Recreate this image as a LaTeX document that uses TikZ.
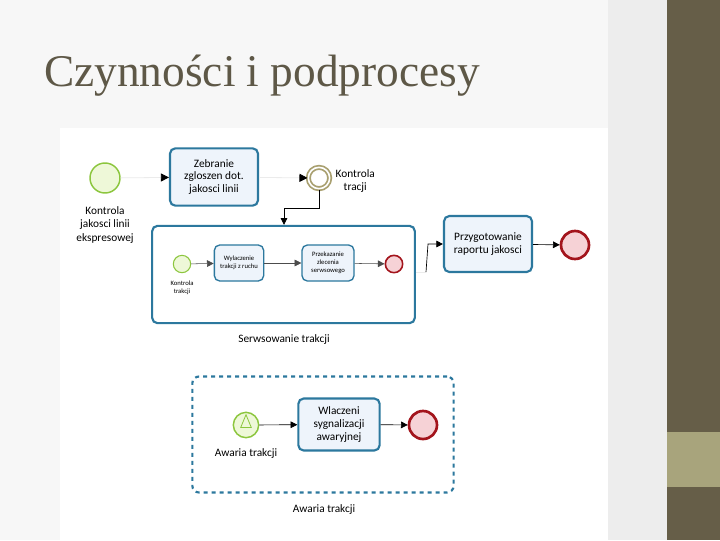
\documentclass[tikz,border=0pt]{standalone}
\usepackage{fontspec}
\setmainfont{Carlito}
\newfontfamily\titlefont{Liberation Serif}
\usetikzlibrary{arrows.meta,shapes.geometric}
\definecolor{olivebar}{HTML}{665E48}
\definecolor{olivelight}{HTML}{A8A47C}
\definecolor{titlegray}{HTML}{5E5847}
\definecolor{taskline}{HTML}{2C789E}
\definecolor{taskfill}{HTML}{EEF4FB}
\definecolor{startline}{HTML}{8CC63E}
\definecolor{startfill}{HTML}{EEF8D8}
\definecolor{endline}{HTML}{A3141C}
\definecolor{endfill}{HTML}{F6D2D6}
\definecolor{midline}{HTML}{A9A070}
\tikzset{
  task/.style={draw=taskline,fill=taskfill,rounded corners=4pt,line width=1.6pt,align=center,font=\fontsize{8.5}{9.5}\selectfont,inner sep=1pt},
  smalltask/.style={task,line width=1pt,font=\fontsize{5}{6}\selectfont},
  startev/.style={circle,draw=startline,fill=startfill,line width=1.1pt},
  endev/.style={circle,draw=endline,fill=endfill,line width=2pt},
  flow/.style={-{Triangle[length=5pt,width=5pt]},black,line width=0.5pt},
  faint/.style={-{Triangle[length=6pt,width=6pt,black]},black!8,line width=0.6pt},
  lbl/.style={font=\fontsize{8.5}{10}\selectfont,align=center},
}
\begin{document}
\begin{tikzpicture}[x=0.75pt,y=-0.75pt]
  \useasboundingbox (0,0) rectangle (720,540);
  % slide
  \fill[black!3] (0,0) rectangle (667,540);
  \fill[white] (60,128) rectangle (608,540);
  \fill[black!7] (608,0) rectangle (667,540);
  \fill[olivebar] (667,0) rectangle (720,540);
  \fill[olivelight] (667,432) rectangle (720,487);
  \node[anchor=base west,inner sep=0,text=titlegray,font=\titlefont\fontsize{34}{38}\selectfont] (title) at (44,86) {Czynności i podprocesy};

  % top process
  \node[startev,minimum size=22.5pt] (start) at (105,178) {};
  \node[lbl] (startlbl) at (105,225) {Kontrola\\jakosci linii\\ekspresowej};
  \node[task,minimum width=66pt,minimum height=43pt] (zebranie) at (214,177) {Zebranie\\zgloszen dot.\\jakosci linii};
  \node[circle,draw=midline,fill=white,double=white,double distance=1.2pt,line width=1.3pt,minimum size=16pt] (kontrola) at (319,178) {};
  \node[lbl,anchor=west] (kontrolalbl) at (331,181) {Kontrola\\tracji};
  \draw[faint] (start) -- (zebranie);
  \draw[faint] (zebranie) -- (kontrola);

  % subprocess
  \node[task,fill=white,minimum width=197pt,minimum height=73pt] (serwis) at (283.5,274.5) {};
  \node[lbl] (serwislbl) at (284,340) {Serwsowanie trakcji};
  \coordinate (k1) at (319,208);
  \coordinate (k2) at (284,208);
  \draw[flow] (kontrola) -- (k1) -- (k2) -- (serwis.north -| k2);
  \node[startev,line width=0.8pt,minimum size=13pt] (inStart) at (182,264) {};
  \node[font=\fontsize{5}{6}\selectfont,align=center] (inStartlbl) at (182,288) {Kontrola\\trakcji};
  \node[smalltask,minimum width=37pt,minimum height=27pt] (wylacz) at (239,263) {Wylaczenie\\trakcji z ruchu};
  \node[smalltask,minimum width=39pt,minimum height=27pt] (przekaz) at (328,263) {Przekazanie\\zlecenia\\serwsowego};
  \node[endev,line width=1.2pt,minimum size=13pt] (inEnd) at (394,264) {};
  \draw[flow,black!70,line width=0.4pt] (inStart) -- (wylacz);
  \draw[flow,black!70,line width=0.4pt] (wylacz) -- (przekaz);
  \draw[flow,black!70,line width=0.4pt] (przekaz) -- (inEnd);

  % report
  \node[task,minimum width=66pt,minimum height=42pt] (raport) at (488,244) {Przygotowanie\\raportu jakosci};
  \node[endev,minimum size=21pt] (end) at (575,245) {};
  \coordinate (r1) at (426,272);
  \coordinate (r2) at (428,244);
  \draw[black!8,line width=0.6pt] (serwis.east |- r1) -- (r1);
  \draw[flow] (r1) -- (r2) -- (raport.west);
  \draw[flow] (raport) -- (end);

  % event subprocess
  \node[draw=taskline,dashed,line width=1.6pt,rounded corners=5pt,minimum width=196pt,minimum height=87pt] (awaria) at (323,434.5) {};
  \node[lbl] (awarialbl) at (324,510) {Awaria trakcji};
  \node[startev,minimum size=19pt] (awStart) at (246,425) {};
  \node[isosceles triangle,shape border rotate=90,draw=startline,line width=0.6pt,minimum size=8pt,inner sep=0pt] (awTri) at (246,424) {};
  \node[lbl] (awStartlbl) at (246,454) {Awaria trakcji};
  \node[task,minimum width=61pt,minimum height=39pt] (sygnal) at (339,424.5) {Wlaczeni\\sygnalizacji\\awaryjnej};
  \node[endev,minimum size=21pt] (awEnd) at (423,425) {};
  \draw[flow] (awStart) -- (sygnal);
  \draw[flow] (sygnal) -- (awEnd);
\end{tikzpicture}
\end{document}
